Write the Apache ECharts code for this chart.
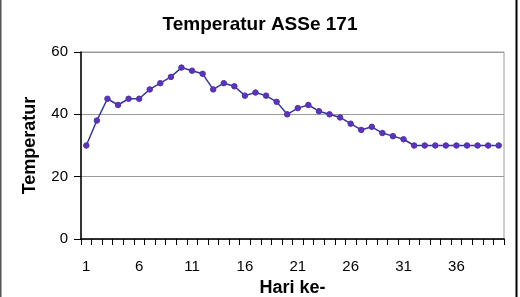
<!DOCTYPE html>
<html>
<head>
<meta charset="utf-8">
<script src="https://cdn.jsdelivr.net/npm/echarts@6/dist/echarts.min.js"></script>
<style>
html,body{margin:0;padding:0;background:#fff;}
#c{width:520px;height:297px;}
</style>
</head>
<body>
<div id="c"></div>
<script>
const days = [];
for (let i = 1; i <= 40; i++) days.push(String(i));
const temperatur = [30,38,45,43,45,45,48,50,52,55,54,53,48,50,49,46,47,46,44,40,42,43,41,40,39,37,35,36,34,33,32,30,30,30,30,30,30,30,30,30];
const yTicks = { min: 0, max: 60, interval: 20 };
const titleText = 'Temperatur ASSe 171';
const xName = 'Hari ke-';
const yName = 'Temperatur';

const chart = echarts.init(document.getElementById('c'), null, {renderer: 'canvas'});
const font = '"Liberation Sans", Arial, sans-serif';
chart.setOption({
  animation: false,
  backgroundColor: '#fff',
  title: {
    text: titleText, left: 'center', top: 10,
    textStyle: {fontFamily: font, fontSize: 19, fontWeight: 'bold', color: '#000'}
  },
  grid: {left: 81, right: 16, top: 52, bottom: 58, containLabel: false, outerBoundsMode: 'none',
         show: true, borderColor: '#9a9a9a', borderWidth: 1},
  xAxis: {
    type: 'category', data: days, boundaryGap: true,
    name: xName, nameLocation: 'middle', nameGap: 36,
    nameTextStyle: {fontFamily: font, fontSize: 18, fontWeight: 'bold', color: '#000'},
    axisLine: {lineStyle: {color: '#000', width: 1.5}},
    axisTick: {show: true, interval: 0, length: 6, lineStyle: {color: '#000'}},
    axisLabel: {interval: 4, margin: 20, fontFamily: font, fontSize: 15, color: '#000'},
    splitLine: {show: false}
  },
  yAxis: {
    type: 'value', min: yTicks.min, max: yTicks.max, interval: yTicks.interval,
    name: yName, nameLocation: 'middle', nameGap: 42, nameRotate: 90,
    nameTextStyle: {fontFamily: font, fontSize: 18, fontWeight: 'bold', color: '#000'},
    axisLine: {show: true, lineStyle: {color: '#000', width: 1.5}},
    axisTick: {show: true, length: 7, lineStyle: {color: '#000'}},
    axisLabel: {margin: 13, fontFamily: font, fontSize: 15, color: '#000'},
    splitLine: {show: true, lineStyle: {color: '#9a9a9a', width: 1}}
  },
  series: [{
    type: 'line', data: temperatur,
    symbol: 'circle', symbolSize: 5.5, showSymbol: true,
    lineStyle: {color: '#35359e', width: 1.5},
    itemStyle: {color: '#6a2cc0', borderColor: '#3c3ca8', borderWidth: 1}
  }],
  graphic: [
    {type: 'rect', shape: {x: 0, y: 0, width: 1.5, height: 297}, style: {fill: '#555'}},
    {type: 'rect', shape: {x: 515.5, y: 0, width: 2, height: 297}, style: {fill: '#000'}}
  ]
});
</script>
</body>
</html>
